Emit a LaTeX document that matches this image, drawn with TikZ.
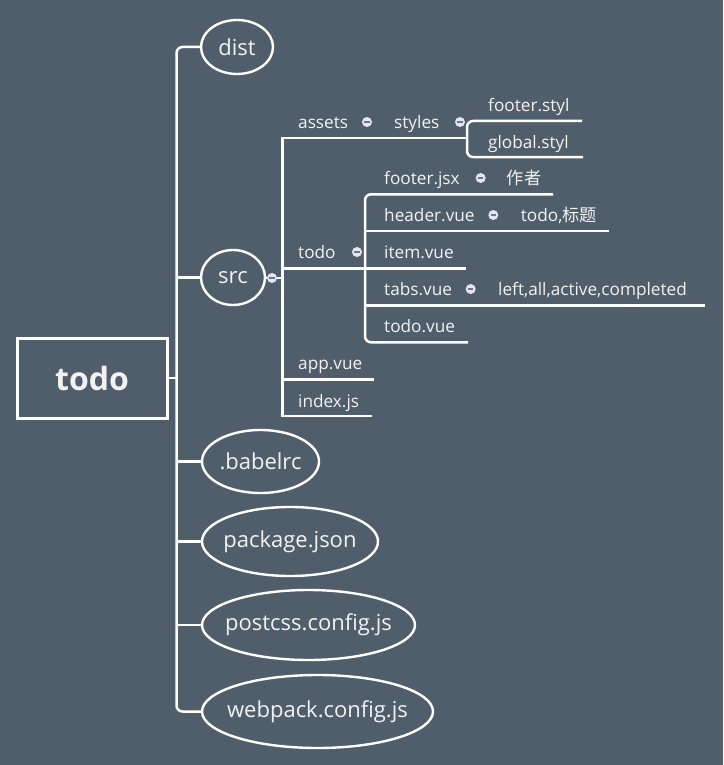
\documentclass[tikz,border=0pt]{standalone}
\usepackage{fontspec}
\setmainfont{Open Sans}
\newfontfamily\cjk{Noto Sans CJK SC}
\usetikzlibrary{shapes.geometric}
\definecolor{bg}{HTML}{505E6C}
\definecolor{txt}{HTML}{F2F2F2}
\definecolor{mkfill}{HTML}{E4E7F2}
\definecolor{mkline}{HTML}{6A7686}
\begin{document}
\begin{tikzpicture}[x=1pt,y=-1pt,
  ln/.style={draw=white, line width=2.5pt},
  rootbox/.style={rectangle, draw=white, line width=3pt, text=txt, minimum width=150pt, minimum height=80pt, inner sep=0, font=\fontsize{32}{36}\selectfont\bfseries},
  ell/.style={ellipse, draw=white, line width=2.4pt, text=txt, inner sep=0, font=\fontsize{22}{26}\selectfont},
  lbl/.style={anchor=base west, inner sep=0, text=txt, font=\fontsize{17.2}{20}\selectfont, yshift=-1.5pt},
  mk/.style={circle, fill=mkfill, minimum size=10pt, inner sep=0,
    path picture={\draw[mkline, line width=1.3pt] ([xshift=-2.6pt]path picture bounding box.center) -- ([xshift=2.6pt]path picture bounding box.center);}}
]
\fill[bg] (0,0) rectangle (723,765);
\useasboundingbox (0,0) rectangle (723,765);

% root and first-level nodes
\node[rootbox] (root) at (92,378) {todo};
\node[ell, minimum width=72pt, minimum height=54pt] (dist) at (237,47) {\makebox[0pt]{dist}};
\node[ell, minimum width=64pt, minimum height=55pt] (src) at (233,277.5) {\makebox[0pt]{src}};
\node[ell, minimum width=117pt, minimum height=63pt] (babel) at (260.5,461.5) {\makebox[0pt]{.babelrc}};
\node[ell, minimum width=176pt, minimum height=69pt] (pkg) at (290,541.5) {\makebox[0pt]{package.json}};
\node[ell, minimum width=213pt, minimum height=70pt] (postcss) at (308.5,625) {\makebox[0pt]{postcss.config.js}};
\node[ell, minimum width=231pt, minimum height=73pt] (webpack) at (317.5,711.5) {\makebox[0pt]{webpack.config.js}};

% trunk
\coordinate (tk) at (176.5,0);
\draw[ln] (root.east) -- (root.east -| tk);
\draw[ln, rounded corners=6pt] (dist.west) -- (dist.west -| tk) -- (webpack.west -| tk) -- (webpack.west);
\draw[ln] (src.west) -- (src.west -| tk);
\draw[ln] (babel.west) -- (babel.west -| tk);
\draw[ln] (pkg.west) -- (pkg.west -| tk);
\draw[ln] (postcss.west) -- (postcss.west -| tk);

% src children
\node[mk] (srcm) at (272,278) {};
\coordinate (sv) at (282.5,278);
\draw[ln] (src.east) -- (srcm);
\draw[ln] (srcm) -- (sv);

\node[lbl] (assets) at (298,127) {assets};
\node[mk] (assetsm) at (367,122) {};
\node[lbl] (styles) at (394,127) {styles};
\node[mk] (stylesm) at (460,122) {};
\node[lbl] (fstyl) at (488,110) {footer.styl};
\node[lbl] (gstyl) at (488,146.5) {global.styl};

\node[lbl] (todo2) at (298,256.5) {todo};
\node[mk] (todom) at (357,252) {};
\node[lbl] (fjsx) at (384,183) {footer.jsx};
\node[mk] (fjsxm) at (480.7,178) {};
\node[lbl] (author) at (506.7,183) {\cjk 作者};
\node[lbl] (hvue) at (384,220) {header.vue};
\node[mk] (hvuem) at (493.3,215) {};
\node[lbl] (title) at (520.7,220) {todo,{\cjk 标题}};
\node[lbl] (ivue) at (384,256.5) {item.vue};
\node[lbl] (tvue) at (384,294) {tabs.vue};
\node[mk] (tvuem) at (470.7,289) {};
\node[lbl] (states) at (498,294) {left,all,active,completed};
\node[lbl] (tdvue) at (384,330.5) {todo.vue};
\node[lbl] (app) at (298,368) {app.vue};
\node[lbl] (index) at (298,405.5) {index.js};

% underline / tree lines
\coordinate (stv) at (467,138);
\coordinate (tdv) at (365,268.3);
\draw[ln] (stv) -- (sv |- stv) -- (282.5,416) coordinate (idxl) -- (372,416);
\draw[ln, rounded corners=6pt] (582,121) -- (stv |- 0,121) -- (stv |- 0,157) -- (583,157);
\draw[ln] (sv |- tdv) -- (tdv) -- (466,268.3);
\draw[ln, rounded corners=6pt] (553,194.3) -- (tdv |- 0,194.3) -- (tdv |- 0,342.3) -- (468,342.3);
\draw[ln] (tdv |- 0,231) -- (609,231);
\draw[ln] (tdv |- 0,305.3) -- (705,305.3);
\draw[ln] (sv |- 0,379.3) -- (374,379.3);
\end{tikzpicture}
\end{document}
